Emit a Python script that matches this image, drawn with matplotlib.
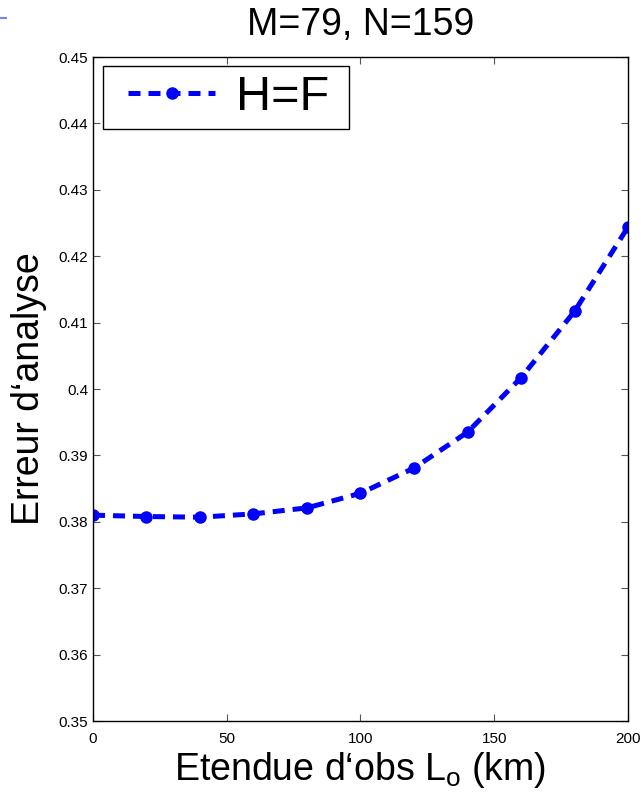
import numpy as np
import matplotlib
matplotlib.use('Agg')
import matplotlib.pyplot as plt
from matplotlib.lines import Line2D
from matplotlib.patches import Rectangle

# Analysis error against observation extent
Lo = [0, 20, 40, 60, 80, 100, 120, 140, 160, 180, 200]
err = [0.3810, 0.3808, 0.3807, 0.3812, 0.3821, 0.3843, 0.3881, 0.3935, 0.4017, 0.4117, 0.4244]
xticks = [0, 50, 100, 150, 200]
yticks = [0.35, 0.36, 0.37, 0.38, 0.39, 0.40, 0.41, 0.42, 0.43, 0.44, 0.45]
yticklabels = ['0.35', '0.36', '0.37', '0.38', '0.39', '0.4', '0.41', '0.42', '0.43', '0.44', '0.45']

plt.rcParams['font.family'] = ['Liberation Sans', 'DejaVu Sans']
plt.rcParams['mathtext.fontset'] = 'custom'
plt.rcParams['mathtext.rm'] = 'Liberation Sans'
plt.rcParams['mathtext.it'] = 'Liberation Sans'

fig = plt.figure(figsize=(6.43, 7.92), dpi=100)
ax = fig.add_axes([0.1446, 0.0896, 0.8321, 0.8384])

ax.plot(Lo, err, color='#0000ff', linestyle=(0, (2.4, 1.6)), linewidth=3.6,
        marker='o', markersize=8, label='H=F')

ax.set_xlim(0, 200)
ax.set_ylim(0.35, 0.45)
ax.set_xticks(xticks)
ax.set_yticks(yticks)
ax.set_yticklabels(yticklabels)
ax.tick_params(direction='in', length=5, width=0.8, labelsize=11,
               top=True, right=True, color='#555555')
ax.tick_params(axis='x', pad=8)
for sp in ax.spines.values():
    sp.set_linewidth(1.0)

ax.set_title('M=79, N=159', fontsize=27, pad=16)
ax.set_xlabel('Etendue d\u2018obs L$_\\mathrm{o}$ (km)', fontsize=27, labelpad=3)
ax.set_ylabel('Erreur d\u2018analyse', fontsize=27, labelpad=8)

# legend contents without its own frame; the box is drawn separately
leg = ax.legend(loc='center left', bbox_to_anchor=(0.0654, 0.939), fontsize=35,
                frameon=False, handlelength=1.8, borderpad=0,
                handletextpad=0.43, borderaxespad=0)
ax.add_patch(Rectangle((0.0187, 0.8916), 0.4598, 0.0948, transform=ax.transAxes,
                       facecolor='white', edgecolor='black', linewidth=1.0,
                       zorder=4))
leg.set_zorder(5)

# stray blue stroke in the upper-left corner
fig.add_artist(Line2D([0.0, 0.01], [0.977, 0.977], color='#6f86ff', linewidth=1.5,
                      transform=fig.transFigure))

fig.savefig('out.png', dpi=100)
